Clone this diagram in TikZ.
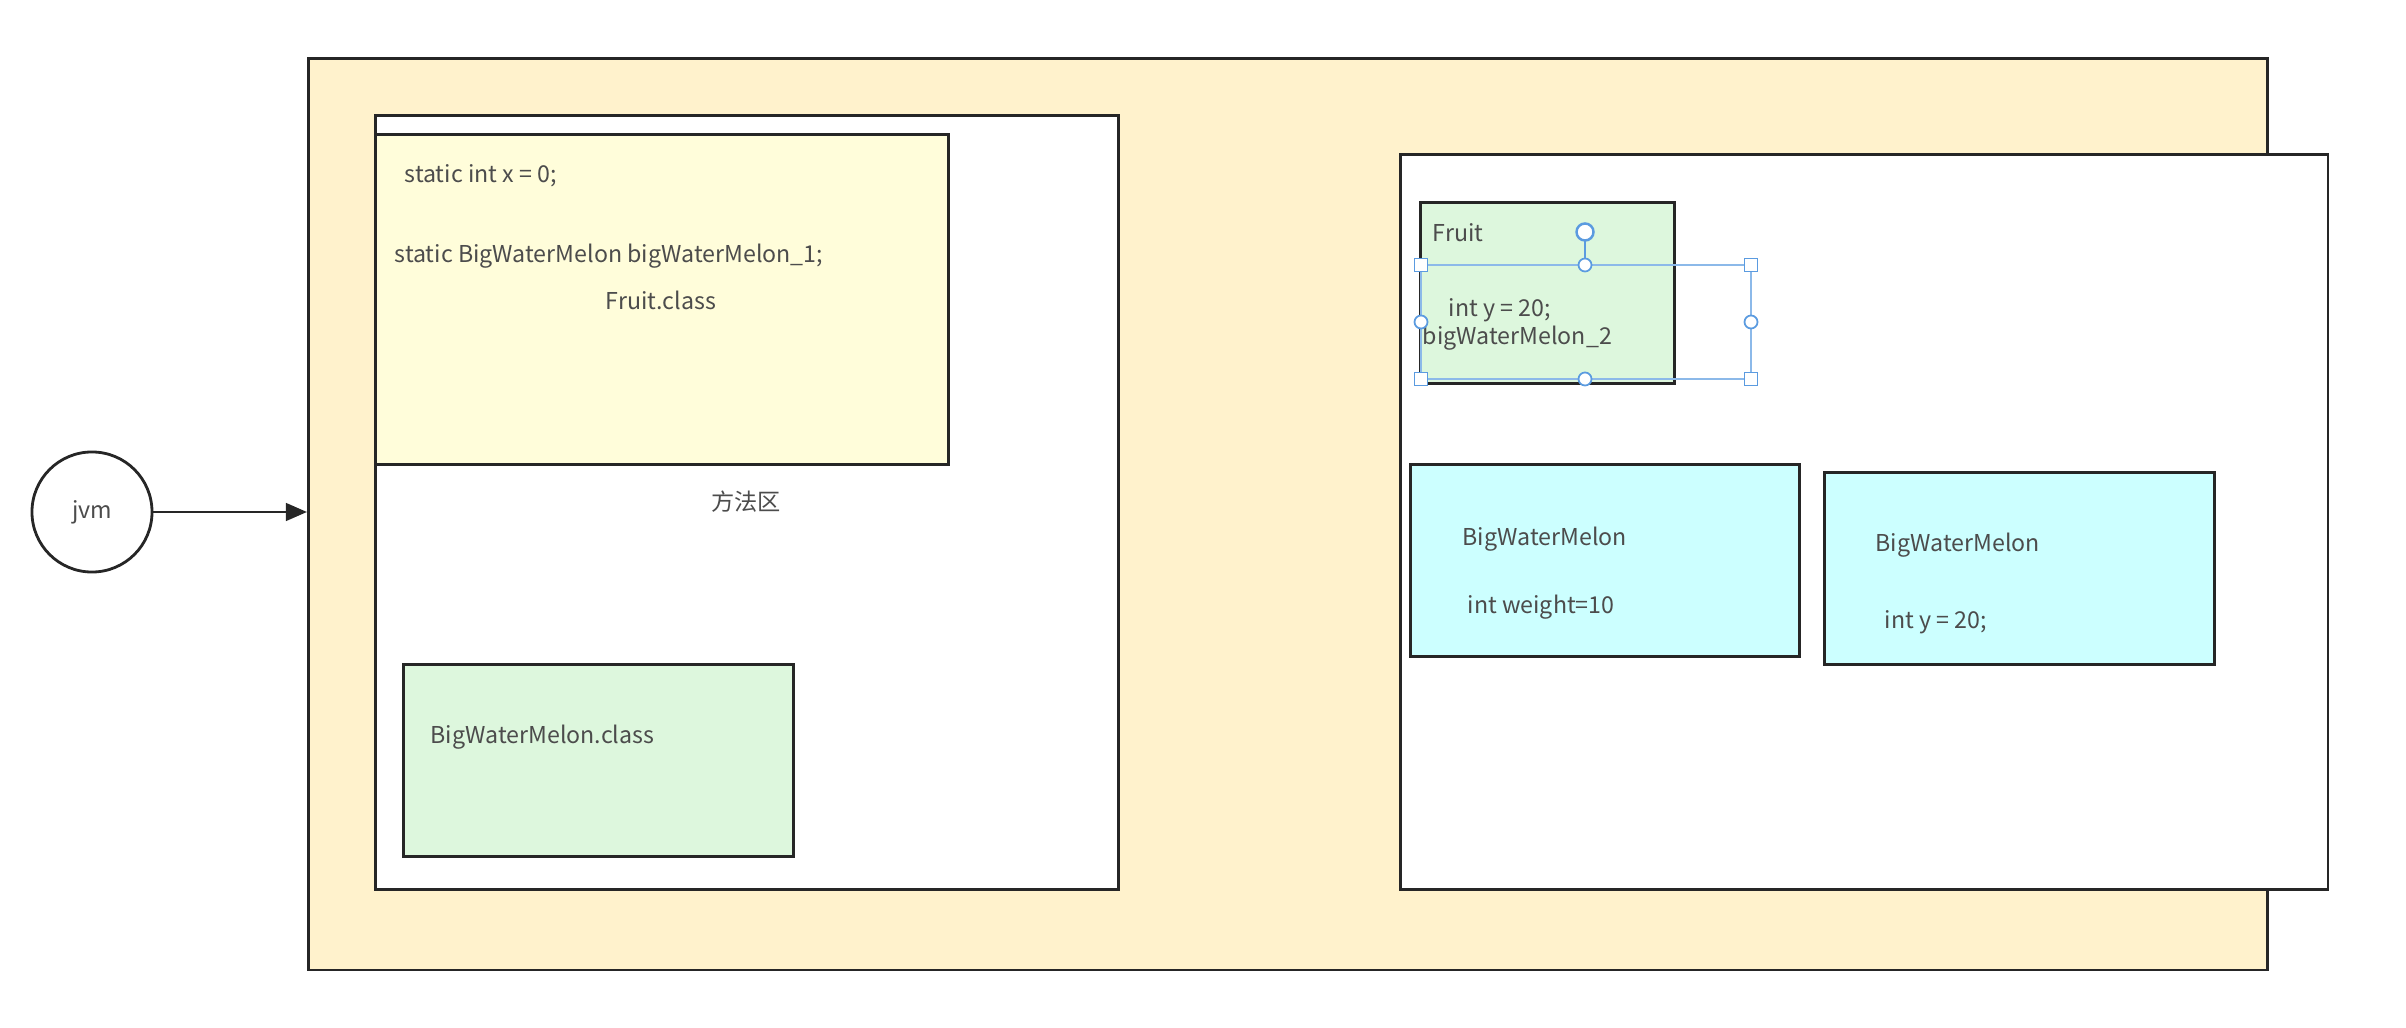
\documentclass[tikz,border=0pt]{standalone}
\usepackage{fontspec}
\setmainfont{Noto Sans CJK SC}
\usetikzlibrary{arrows.meta}
\definecolor{jvmbg}{HTML}{FFF2CC}
\definecolor{staticbg}{HTML}{FFFDDA}
\definecolor{classbg}{HTML}{DDF7DD}
\definecolor{objbg}{HTML}{CCFFFF}
\definecolor{selblue}{HTML}{5B9BE0}
\tikzset{
  area/.style={draw=black!85, line width=0.8pt, anchor=north west, inner sep=0pt},
  txt/.style={anchor=west, inner sep=0pt, text=black!70, font=\fontsize{6.6}{8}\selectfont},
  grip/.style={draw=selblue, fill=white, line width=0.5pt, inner sep=0pt},
}
\begin{document}
\begin{tikzpicture}[x=0.01cm,y=-0.01cm]
\useasboundingbox (0,0) rectangle (2406,1028);
% jvm and its memory
\node[area, fill=jvmbg, minimum width=19.58cm, minimum height=9.11cm] (jvmbox) at (307,57) {};
\node[circle, draw=black!85, line width=0.8pt, minimum size=1.2cm, inner sep=0pt,
  text=black!70, font=\fontsize{6.6}{8}\selectfont] (jvm) at (92,512) {jvm};
\draw[line width=0.8pt, black!85, -{Triangle[length=6pt,width=5pt]}] (jvm.east) -- (jvm.east -| jvmbox.west);
% method area
\node[area, fill=white, minimum width=7.43cm, minimum height=7.74cm] (method) at (374,114) {};
\node[area, fill=staticbg, minimum width=5.73cm, minimum height=3.30cm] (statics) at (374,133) {};
\node[txt] (sx) at (404,176) {static int x = 0;};
\node[txt] (sbwm) at (394,256) {static BigWaterMelon bigWaterMelon\_1;};
\node[txt, anchor=center] (fruitcls) at (661,300) {Fruit.class};
\node[txt, anchor=center] (methodlbl) at (746,502) {方法区};
\node[area, fill=classbg, minimum width=3.90cm, minimum height=1.92cm] (bwmclass) at (402,663) {};
\node[txt] (bwmclslbl) at (430,737) {BigWaterMelon.class};
% heap
\node[area, fill=white, minimum width=9.27cm, minimum height=7.35cm] (heap) at (1399,153) {};
\node[area, fill=classbg, minimum width=2.54cm, minimum height=1.81cm] (fruit) at (1419,201) {};
\node[txt] (fruitlbl) at (1432,233) {Fruit};
\node[txt] (fy) at (1448,310) {int y = 20;};
\node[txt] (fbwm) at (1422,338) {bigWaterMelon\_2};
\node[area, fill=objbg, minimum width=3.89cm, minimum height=1.92cm] (bwm1) at (1409,463) {};
\node[txt] (bwm1lbl) at (1462,539) {BigWaterMelon};
\node[txt] (bwm1w) at (1467,607) {int weight=10};
\node[area, fill=objbg, minimum width=3.90cm, minimum height=1.92cm] (bwm2) at (1823,471) {};
\node[txt] (bwm2lbl) at (1875,545) {BigWaterMelon};
\node[txt] (bwm2y) at (1884,622) {int y = 20;};
% selection frame
\draw[selblue!70, line width=0.5pt] (1421,265) rectangle (1751,379);
\draw[selblue, line width=0.7pt] (1585,232) -- (1585,265);
\foreach \px/\py in {1421/265,1751/265,1421/379,1751/379}
  \node[grip, rectangle, minimum size=0.13cm] at (\px,\py) {};
\foreach \px/\py in {1585/265,1585/379,1421/322,1751/322}
  \node[grip, circle, minimum size=0.13cm] at (\px,\py) {};
\node[grip, circle, minimum size=0.17cm, line width=0.7pt] (rot) at (1585,232) {};
\end{tikzpicture}
\end{document}
